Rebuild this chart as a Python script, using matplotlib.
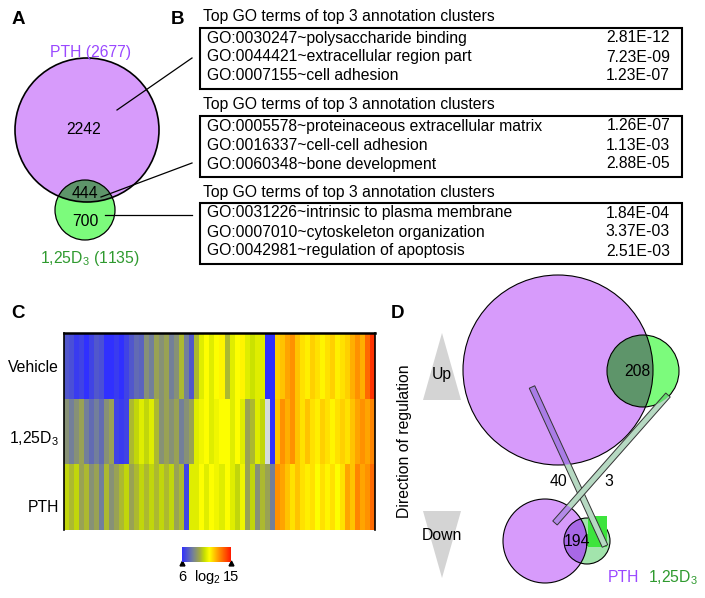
import numpy as np
import matplotlib
matplotlib.use('Agg')
import matplotlib.pyplot as plt
from matplotlib.patches import Circle, Rectangle, Polygon
from matplotlib.colors import LinearSegmentedColormap

plt.rcParams['font.family'] = 'Liberation Sans'
plt.rcParams['mathtext.fontset'] = 'custom'
plt.rcParams['mathtext.rm'] = 'Liberation Sans'
plt.rcParams['mathtext.it'] = 'Liberation Sans'

# ---- data ----
venn_a_counts = {'pth_only': 2242, 'both': 444, 'd3_only': 700}
venn_a_totals = {'PTH': 2677, 'D3': 1135}

go_terms = [
    ['GO:0030247~polysaccharide binding',
     'GO:0044421~extracellular region part',
     'GO:0007155~cell adhesion'],
    ['GO:0005578~proteinaceous extracellular matrix',
     'GO:0016337~cell-cell adhesion',
     'GO:0060348~bone development'],
    ['GO:0031226~intrinsic to plasma membrane',
     'GO:0007010~cytoskeleton organization',
     'GO:0042981~regulation of apoptosis'],
]
go_pvals = [
    ['2.81E-12', '7.23E-09', '1.23E-07'],
    ['1.26E-07', '1.13E-03', '2.88E-05'],
    ['1.84E-04', '3.37E-03', '2.51E-03'],
]

heat_rows = ['Vehicle', '1,25D$_3$', 'PTH']
vehicle = [7, 6.8, 6.3, 6.5, 6, 6.5, 7, 6.8, 6, 6, 6.3, 6, 6.5, 7, 7.5, 7.3,
           8.5, 8, 9, 8.5, 9, 8, 8.5, 9.5, 8, 7,
           9.5, 10.5, 11, 10.5, 11, 11.2, 9.5, 10.5, 11, 11.2, 10.5, 10.2, 10.5, 10.5,
           6, 6,
           11.8, 12, 12.5, 12.8, 12, 11.5, 11.3, 11.8, 11.5, 11.2, 11.5, 11.8, 11.3,
           11.5, 11.8, 12.3, 12.8, 12.3, 13.5, 14.5]
d3 = [8.5, 8, 8.5, 9, 8, 7.5, 8, 7.5, 8.5, 9, 6.5, 6.3, 6.5,
      9.5, 10, 10.5, 10, 10.5, 9.5, 8.5, 9, 8.5, 9, 8, 8.5, 9,
      10.5, 10.8, 11, 10.5, 10.8, 11, 11, 10.5, 11, 10.5, 9, 9.5, 10.5, 10,
      np.nan, 6,
      12, 12.8, 12.3, 12.8, 12, 11.5, 12, 11.5, 11.3, 11.8, 11.5, 11.2, 11.5,
      11.8, 11.5, 12, 12.5, 12.8, 12.5, 13]
pth = [10, 9.5, 10, 9, 9.5, 8.5, 9, 8, 9.5, 8.5, 9, 9.5, 10, 9, 9.5, 10,
       9.5, 10, 9.5, 10, 9.5, 10, 9, 9.5, 6.5, 10.5,
       10.5, 11, 10.5, 11, 10.8, 10.5, 11, 10.5, 10, 10.8, 9, 10, 8.5, 9.5,
       9, 8,
       12.8, 12.5, 12, 11.5, 12, 11.5, 11.3, 11.5, 11, 11.5, 11.2, 11.5, 11,
       11.5, 12.5, 12, 13, 12.5, 12.8, 13.5]
heat = np.array([vehicle, d3, pth], dtype=float)
vmin, vmax = 6, 15

venn_d_counts = {'up_both': 208, 'down_both': 194, 'pth_flip': 40, 'd3_flip': 3}

# ---- colours ----
purple = '#d79bfb'
green = '#7cfb7c'
dkgreen = '#5e956a'
txt_purple = '#9a48ff'
txt_green = '#2f9a2f'
cmap = LinearSegmentedColormap.from_list('heat', [
    (0.0, '#3030ff'), (0.22, '#74809a'), (0.36, '#a2aa44'),
    (0.46, '#c8e000'), (0.56, '#ffff00'), (0.74, '#ff9a00'), (1.0, '#ff1800')])
cmap.set_bad('#d4dcdc')

fs = 11.3

fig = plt.figure(figsize=(7.05, 5.98), dpi=100)
ax = fig.add_axes([0, 0, 1, 1])
ax.set_xlim(0, 705)
ax.set_ylim(598, 0)
ax.axis('off')

# panel letters
for lab, x, y in [('A', 18, 20), ('B', 178, 20), ('C', 18, 313), ('D', 397, 313)]:
    ax.text(x, y, lab, fontsize=13.5, fontweight='bold', ha='center', va='center')

# ---- panel A ----
c_pth = Circle((87, 130), 72, fc=purple, ec='none')
c_d3 = Circle((85, 210), 30, fc=green, ec='none')
ax.add_patch(c_pth)
ax.add_patch(c_d3)
ov = Circle((85, 210), 30, fc=dkgreen, ec='none')
ax.add_patch(ov)
ov.set_clip_path(c_pth)
ax.add_patch(Circle((87, 130), 72, fc='none', ec='black', lw=1.2))
ax.add_patch(Circle((85, 210), 30, fc='none', ec='black', lw=0.9))
ax.text(90, 53, 'PTH (%d)' % venn_a_totals['PTH'], color=txt_purple, fontsize=fs,
        ha='center', va='center')
ax.text(90, 258, '1,25D$_3$ (%d)' % venn_a_totals['D3'], color=txt_green, fontsize=fs,
        ha='center', va='center')
ax.text(84, 130, str(venn_a_counts['pth_only']), fontsize=fs, ha='center', va='center')
ax.text(85, 194, str(venn_a_counts['both']), fontsize=fs, ha='center', va='center')
ax.text(85, 222, str(venn_a_counts['d3_only']), fontsize=fs, ha='center', va='center')

# connector lines A -> B
ax.plot([117, 192], [110, 58], color='black', lw=0.9)
ax.plot([101, 192], [197, 163], color='black', lw=0.9)
ax.plot([105, 192], [215, 215], color='black', lw=0.9)

# ---- panel B ----
box_tops = [28, 116, 203]
for k, top in enumerate(box_tops):
    ax.text(203, top - 11, 'Top GO terms of top 3 annotation clusters', fontsize=fs,
            ha='left', va='center')
    ax.add_patch(Rectangle((200, top), 482, 61, fc='none', ec='black', lw=1.5))
    for r in range(3):
        yy = top + 10 + 19 * r
        ax.text(207, yy, go_terms[k][r], fontsize=fs, ha='left', va='center')
        ax.text(670, yy, go_pvals[k][r], fontsize=fs, ha='right', va='center')

# ---- panel C ----
hax = fig.add_axes([64 / 705, 1 - 530 / 598, 311 / 705, 197 / 598])
hax.imshow(np.ma.masked_invalid(heat), cmap=cmap, vmin=vmin, vmax=vmax,
           aspect='auto', interpolation='nearest')
hax.set_xticks([])
hax.set_yticks([])
hax.spines['bottom'].set_visible(False)
hax.spines['top'].set_linewidth(1.8)
hax.spines['left'].set_linewidth(1.2)
hax.spines['right'].set_linewidth(1.2)
for lab, yy in zip(heat_rows, [367, 439, 507]):
    ax.text(59, yy, lab, fontsize=fs, ha='right', va='center')

# colour key
cax = fig.add_axes([182 / 705, 1 - 562 / 598, 49 / 705, 15 / 598])
cax.imshow(np.linspace(vmin, vmax, 256)[None, :], cmap=cmap, vmin=vmin, vmax=vmax,
           aspect='auto', extent=[vmin, vmax, 0, 1])
cax.axis('off')
ax.plot([182, 231], [563, 563], ls='none', marker='^', ms=3.5, color='black')
ax.text(182, 577, '6', fontsize=10.5, ha='center', va='center')
ax.text(207, 577, 'log$_2$', fontsize=10.5, ha='center', va='center')
ax.text(231, 577, '15', fontsize=10.5, ha='center', va='center')

# ---- panel D ----
ax.add_patch(Polygon([[423, 400], [461, 400], [442, 333]], fc='#d4d4d4', ec='none'))
ax.add_patch(Polygon([[423, 511], [461, 511], [442, 578]], fc='#d4d4d4', ec='none'))
ax.text(442, 375, 'Up', fontsize=fs, ha='center', va='center')
ax.text(442, 535, 'Down', fontsize=fs, ha='center', va='center')
ax.text(405, 441, 'Direction of regulation', fontsize=fs, rotation=90,
        ha='center', va='center')

big = Circle((558, 370), 95, fc=purple, ec='none')
gup = Circle((643, 371), 36, fc=green, ec='none')
ax.add_patch(big)
ax.add_patch(gup)
o1 = Circle((643, 371), 36, fc=dkgreen, ec='none')
ax.add_patch(o1)
o1.set_clip_path(big)
ax.add_patch(Circle((558, 370), 95, fc='none', ec='black', lw=0.8))
ax.add_patch(Circle((643, 371), 36, fc='none', ec='black', lw=0.8))
ax.text(637, 372, str(venn_d_counts['up_both']), fontsize=fs, ha='center', va='center')

sp = Circle((545, 541), 42, fc=purple, ec='none')
sg = Circle((587, 541), 23, fc='#a2e4ac', ec='none')
ax.add_patch(sp)
ax.add_patch(sg)
o2 = Circle((587, 541), 23, fc='#a868e6', ec='none')
ax.add_patch(o2)
o2.set_clip_path(sp)
ax.add_patch(Circle((545, 541), 42, fc='none', ec='black', lw=0.8))
ax.add_patch(Circle((587, 541), 23, fc='none', ec='black', lw=0.8))
ax.text(577, 542, str(venn_d_counts['down_both']), fontsize=fs, ha='center', va='center')
ax.add_patch(Rectangle((588, 516), 19, 31, fc='#3de43d', ec='none'))


def bar_poly(p1, p2, w):
    p1, p2 = np.array(p1, float), np.array(p2, float)
    d = p2 - p1
    n = np.array([-d[1], d[0]]) / np.hypot(*d) * w / 2
    return [p1 + n, p2 + n, p2 - n, p1 - n]


for p1, p2 in [((532, 387), (605, 546)), ((668, 395), (555, 523))]:
    pts = bar_poly(p1, p2, 6)
    ax.add_patch(Polygon(pts, fc='#b6d9c2', ec='none'))
    for clip, col in [(big, '#a97ce6'), (sp, '#b38ae8'), (gup, '#62de6a')]:
        pp = Polygon(pts, fc=col, ec='none')
        ax.add_patch(pp)
        pp.set_clip_path(clip)
    ax.add_patch(Polygon(pts, fc='none', ec='#333333', lw=0.7))

ax.text(559, 481, str(venn_d_counts['pth_flip']), fontsize=fs, ha='center', va='center')
ax.text(609, 481, str(venn_d_counts['d3_flip']), fontsize=fs, ha='center', va='center')
ax.text(623, 578, 'PTH', color=txt_purple, fontsize=fs, ha='center', va='center')
ax.text(673, 578, '1,25D$_3$', color=txt_green, fontsize=fs, ha='center', va='center')

fig.savefig('out.png', dpi=100)
